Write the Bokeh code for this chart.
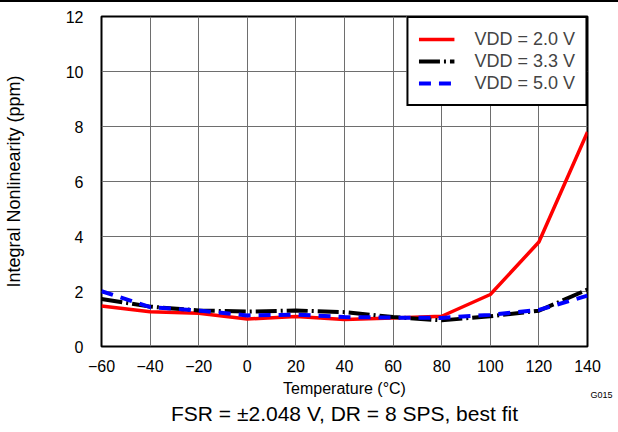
from bokeh.plotting import figure
from bokeh.models import FixedTicker, Legend, LegendItem, Title
from bokeh.embed import file_html
from bokeh.resources import INLINE

temperature = [-60, -40, -20, 0, 20, 40, 60, 80, 100, 120, 140]
inl_vdd_2_0 = [1.47, 1.26, 1.21, 1.0, 1.09, 0.98, 1.04, 1.1, 1.89, 3.8, 7.8]
inl_vdd_3_3 = [1.73, 1.45, 1.31, 1.27, 1.31, 1.25, 1.07, 0.95, 1.1, 1.3, 2.07]
inl_vdd_5_0 = [2.01, 1.43, 1.31, 1.13, 1.16, 1.07, 1.05, 1.04, 1.15, 1.33, 1.85]

x_ticks = [-60, -40, -20, 0, 20, 40, 60, 80, 100, 120, 140]
x_tick_labels = ["\u221260", "\u221240", "\u221220", "0", "20", "40", "60", "80", "100", "120", "140"]
y_ticks = [0, 2, 4, 6, 8, 10, 12]

series_names = ["VDD = 2.0 V", "VDD = 3.3 V", "VDD = 5.0 V"]
x_title = "Temperature (\u00b0C)"
y_title = "Integral Nonlinearity (ppm)"
caption = "FSR = \u00b12.048 V, DR = 8 SPS, best fit"
graph_id = "G015"

FONT = "Liberation Sans"

p = figure(width=618, height=430, x_range=(-60, 140), y_range=(0, 12),
           output_backend="svg", toolbar_location=None,
           min_border_left=100, min_border_right=31, min_border_top=14, min_border_bottom=86)
p.styles = {"border-top": "2px solid black"}
p.background_fill_color = "white"
p.border_fill_color = "white"
p.outline_line_color = "black"
p.outline_line_width = 2

p.xaxis.ticker = FixedTicker(ticks=x_ticks)
p.yaxis.ticker = FixedTicker(ticks=y_ticks)
p.xaxis.major_label_overrides = {t: l for t, l in zip(x_ticks, x_tick_labels)}
for ax in (p.xaxis, p.yaxis):
    ax.axis_line_color = None
    ax.major_tick_line_color = None
    ax.minor_tick_line_color = None
    ax.major_label_text_font = FONT
    ax.major_label_text_font_size = "16px"
    ax.major_label_text_color = "black"
    ax.axis_label_text_font = FONT
    ax.axis_label_text_font_style = "normal"
    ax.axis_label_text_color = "black"
p.xaxis.axis_label_text_font_size = "16px"
p.yaxis.axis_label_text_font_size = "18px"
p.xaxis.major_label_standoff = 7
p.yaxis.major_label_standoff = 12
p.xaxis.axis_label = x_title
p.yaxis.axis_label = y_title
p.xaxis.axis_label_standoff = 5
p.yaxis.axis_label_standoff = 39

p.grid.grid_line_color = "#6e6e6e"
p.grid.grid_line_width = 1
p.grid.grid_line_alpha = 1

r1 = p.line(temperature, inl_vdd_2_0, line_color="#ff0000", line_width=3.5)
r2 = p.line(temperature, inl_vdd_3_3, line_color="black", line_width=4, line_dash="21 4 2 4")
r3 = p.line(temperature, inl_vdd_5_0, line_color="#0000ff", line_width=4, line_dash="12 8")

legend = Legend(items=[LegendItem(label=series_names[0], renderers=[r1]),
                       LegendItem(label=series_names[1], renderers=[r2]),
                       LegendItem(label=series_names[2], renderers=[r3])],
                location="top_right")
legend.margin = 0
legend.padding = 10
legend.spacing = 0
legend.label_height = 22
legend.glyph_height = 22
legend.glyph_width = 36
legend.label_standoff = 20
legend.label_width = 99
legend.label_text_font = FONT
legend.label_text_font_size = "18px"
legend.border_line_color = "black"
legend.border_line_width = 2
legend.border_line_alpha = 1
legend.background_fill_color = "white"
legend.background_fill_alpha = 1
p.add_layout(legend)

gid = Title(text=graph_id, align="right", vertical_align="top", offset=-25, standoff=-19,
            text_font=FONT, text_font_size="9px", text_font_style="normal", text_color="black")
p.add_layout(gid, "below")

cap = Title(text=caption, align="center", text_font=FONT, text_font_size="21px",
            text_font_style="normal", text_color="black", standoff=0)
p.add_layout(cap, "below")

open("out.html", "w").write(file_html(p, INLINE))
